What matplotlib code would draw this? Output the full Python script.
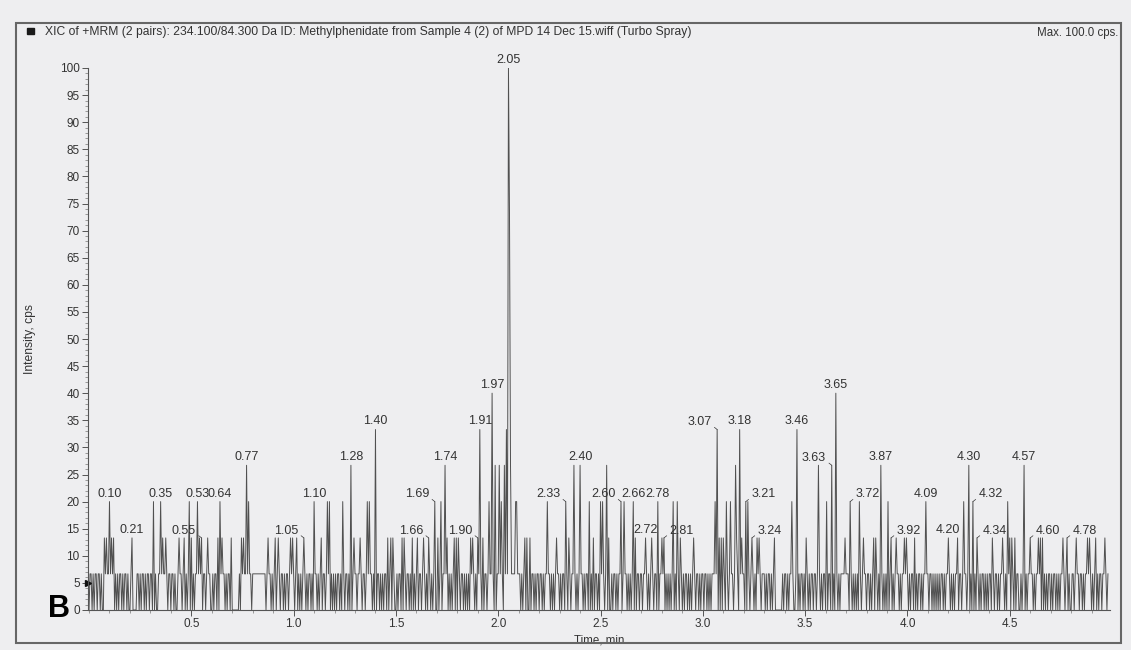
import numpy as np
import matplotlib
matplotlib.use("Agg")
import matplotlib.pyplot as plt
from matplotlib.patches import Rectangle
from matplotlib.ticker import MultipleLocator
import matplotlib.transforms as mtransforms

plt.rcParams["font.family"] = ["Liberation Sans", "DejaVu Sans"]

BG = "#eeeef0"
INK = "#333333"
TRACE = "#505050"

# ── Data ─────────────────────────────────────────────────────────────────────
TITLE = ("XIC of +MRM (2 pairs): 234.100/84.300 Da ID: Methylphenidate from "
         "Sample 4 (2) of MPD 14 Dec 15.wiff (Turbo Spray)")

DT = 0.005          # min between scans
ONE_COUNT = 6.67    # cps of a single-count scan

# background scans (0 / 1 count), one string per half minute
BASELINE = [
    "0110101101 1010011011 0101101010 1101011010 0100000110 1011010110 1101010011 0101101011 0110100101 1011010110",
    "1010110101 1011010110 0101101011 0110101101 0000000101 1011010110 1111111111 1110101101 0110101011 0101101010",
    "1011010101 1101011010 0110101101 1010110101 0101101011 0110101010 1101101011 0101011010 1011010101 1010110110",
    "0101101011 0110101010 1101101010 1011010110 0101101101 1010101101 0110110101 0101101010 1101010110 1011010101",
    "1010101111 1111111111 1101011010 0101101011 0110101101 1010101011 0101101101 1011010101 0110101101 0101011010",
    "1101011010 0101101011 1010110101 0110101101 1011010101 0101101011 0110101010 1101011011 0101101010 1010110101",
    "1011010101 1101101010 0101101011 0110101101 1010110101 0101101011 1010110101 1000000010 1101011010 0110101101",
    "0110101101 1010101011 0101101010 1101011111 1110110101 0101101011 0110101101 1010110101 0101101010 1101011011",
    "1010110101 0110101101 1011010101 0101101011 1101010110 0110101101 1010101011 0101101010 1101101101 0110101011",
    "1011010110 0101101011 0110101101 1010101011 0101101010 1101011010 0110101101 1010110101 0101101011 0110101",
]

# unlabelled spikes above the background
SPIKE_TIMES = [
    0.075, 0.085, 0.11, 0.12, 0.315, 0.36, 0.375, 0.44, 0.465, 0.49, 0.50, 0.54,
    0.58, 0.63, 0.65, 0.695, 0.745, 0.755, 0.78, 0.875, 0.91, 0.925, 0.985, 0.995,
    1.015, 1.135, 1.165, 1.175, 1.24, 1.295, 1.325, 1.36, 1.37, 1.46, 1.475, 1.485,
    1.53, 1.54, 1.58, 1.605, 1.635, 1.705, 1.72, 1.75, 1.785, 1.795, 1.805, 1.865,
    1.875, 1.925, 1.955, 1.985, 2.005, 2.015, 2.03, 2.04, 2.055, 2.06, 2.085, 2.09,
    2.13, 2.14, 2.155, 2.24, 2.285, 2.345, 2.37, 2.445, 2.465, 2.50, 2.51, 2.53,
    2.54, 2.615, 2.67, 2.75, 2.80, 2.855, 2.875, 2.89, 2.955, 3.06, 3.08, 3.09,
    3.10, 3.115, 3.135, 3.16, 3.165, 3.19, 3.22, 3.265, 3.275, 3.35, 3.435, 3.505,
    3.565, 3.605, 3.695, 3.765, 3.785, 3.835, 3.845, 3.905, 3.945, 3.985, 3.995,
    4.035, 4.245, 4.275, 4.415, 4.465, 4.49, 4.50, 4.51, 4.525, 4.64, 4.65, 4.66,
    4.76, 4.825, 4.88, 4.89, 4.92, 4.965,
]
SPIKE_CPS = [
    13.3, 13.3, 13.3, 13.3, 20.0, 13.3, 13.3, 13.3, 13.3, 20.0, 13.3, 13.3,
    13.3, 13.3, 13.3, 13.3, 13.3, 13.3, 20.0, 13.3, 13.3, 13.3, 13.3, 13.3,
    13.3, 13.3, 20.0, 20.0, 20.0, 13.3, 13.3, 20.0, 20.0, 13.3, 13.3, 13.3,
    13.3, 13.3, 13.3, 13.3, 13.3, 13.3, 20.0, 13.3, 13.3, 13.3, 13.3, 13.3,
    13.3, 13.3, 20.0, 26.7, 26.7, 20.0, 26.7, 33.3, 73.3, 26.7, 20.0, 20.0,
    13.3, 13.3, 13.3, 20.0, 13.3, 13.3, 26.7, 20.0, 13.3, 20.0, 20.0, 26.7,
    13.3, 20.0, 13.3, 13.3, 13.3, 20.0, 20.0, 13.3, 13.3, 20.0, 13.3, 13.3,
    13.3, 20.0, 20.0, 26.7, 13.3, 13.3, 20.0, 13.3, 13.3, 13.3, 20.0, 13.3,
    26.7, 20.0, 13.3, 20.0, 13.3, 13.3, 13.3, 20.0, 13.3, 13.3, 13.3,
    13.3, 13.3, 20.0, 13.3, 13.3, 20.0, 13.3, 13.3, 13.3, 13.3, 13.3, 13.3,
    13.3, 13.3, 13.3, 13.3, 13.3, 13.3,
]

# annotated apexes: retention time, intensity, label side (c / l / r)
PEAK_TIMES = [
    0.10, 0.21, 0.35, 0.53, 0.55, 0.64, 0.77, 1.05, 1.10, 1.28, 1.40, 1.66,
    1.69, 1.74, 1.90, 1.91, 1.97, 2.05, 2.33, 2.40, 2.60, 2.66, 2.72, 2.78,
    2.81, 3.07, 3.18, 3.21, 3.24, 3.46, 3.63, 3.65, 3.72, 3.87, 3.92, 4.09,
    4.20, 4.30, 4.32, 4.34, 4.57, 4.60, 4.78,
]
PEAK_CPS = [
    20.0, 13.3, 20.0, 20.0, 13.3, 20.0, 26.7, 13.3, 20.0, 26.7, 33.3, 13.3,
    20.0, 26.7, 13.3, 33.3, 40.0, 100.0, 20.0, 26.7, 20.0, 20.0, 13.3, 20.0,
    13.3, 33.3, 33.3, 20.0, 13.3, 33.3, 26.7, 40.0, 20.0, 26.7, 13.3, 20.0,
    13.3, 26.7, 20.0, 13.3, 26.7, 13.3, 13.3,
]
PEAK_SIDE = [
    "c", "c", "c", "c", "l", "c", "c", "l", "c", "c", "c", "l",
    "l", "c", "l", "c", "c", "c", "l", "c", "l", "c", "c", "c",
    "r", "l", "c", "r", "r", "c", "l", "c", "r", "c", "r", "c",
    "c", "c", "r", "r", "c", "r", "r",
]

Y_TICKS = np.arange(0, 101, 5)
X_TICKS = [0.5, 1.0, 1.5, 2.0, 2.5, 3.0, 3.5, 4.0, 4.5]

# ── Trace ────────────────────────────────────────────────────────────────────
times, cps = [], []
for k, seg in enumerate(BASELINE):
    digits = "".join(seg.split())
    for j, ch in enumerate(digits):
        times.append(0.5 * k + j * DT)
        cps.append(int(ch) * ONE_COUNT)
times = np.array(times)
cps = np.array(cps)

for t, v in zip(SPIKE_TIMES + PEAK_TIMES, SPIKE_CPS + PEAK_CPS):
    i = int(np.argmin(np.abs(times - t)))
    cps[i] = max(cps[i], v)

# ── Figure ───────────────────────────────────────────────────────────────────
fig = plt.figure(figsize=(11.31, 6.5), dpi=100, facecolor=BG)
W, H = 1131, 650

fig.patches.append(Rectangle((16 / W, 1 - 643 / H), 1105 / W, 620 / H,
                             transform=fig.transFigure, fill=False,
                             edgecolor="#666666", lw=1.5))
fig.patches.append(Rectangle((27 / W, 1 - 34 / H), 7 / W, 6 / H,
                             transform=fig.transFigure, color="#1a1a1a"))
fig.text(45 / W, 1 - 32 / H, TITLE, ha="left", va="center", fontsize=8.7, color=INK)
fig.text(1118 / W, 1 - 33 / H, "Max. 100.0 cps.", ha="right", va="center",
         fontsize=8.3, color=INK)

ax = fig.add_axes([88 / W, 1 - 610 / H, (1110 - 88) / W, (610 - 68) / H])
ax.set_facecolor(BG)
ax.plot(times, cps, color=TRACE, lw=0.7)

for t, side in zip(PEAK_TIMES, PEAK_SIDE):
    i = int(np.argmin(np.abs(times - t)))
    x, y = times[i], cps[i]
    kw = dict(textcoords="offset points", fontsize=9, color=INK, va="bottom",
              annotation_clip=False)
    if side == "c":
        ax.annotate(f"{t:.2f}", (x, y), xytext=(0, 1.5), ha="center", **kw)
    else:
        dx = -4 if side == "l" else 4
        ax.annotate(f"{t:.2f}", (x, y), xytext=(dx, 1.0),
                    ha="right" if side == "l" else "left",
                    arrowprops=dict(arrowstyle="-", lw=0.5, color=INK,
                                    shrinkA=0, shrinkB=0,
                                    relpos=(1.0, 0.25) if side == "l" else (0.0, 0.25)),
                    **kw)

ax.set_xlim(-0.005, 4.99)
ax.set_ylim(0, 100)
for s in ("top", "right"):
    ax.spines[s].set_visible(False)
for s in ("left", "bottom"):
    ax.spines[s].set_color("#555555")
    ax.spines[s].set_linewidth(0.8)

ax.set_yticks(Y_TICKS)
ax.yaxis.set_minor_locator(MultipleLocator(1))
ax.set_xticks(X_TICKS)
ax.set_xticklabels([f"{v:.1f}" for v in X_TICKS])
ax.xaxis.set_minor_locator(MultipleLocator(0.1))
ax.tick_params(which="major", length=4, width=0.7, color="#555555",
               labelsize=8.5, labelcolor=INK, pad=2)
ax.tick_params(which="minor", length=2, width=0.5, color="#777777")

ax.set_ylabel("Intensity, cps", fontsize=8.7, color=INK, labelpad=17)
ax.set_xlabel("Time, min", fontsize=8.3, color=INK, labelpad=3)

# marker on the 5 cps line
trans = mtransforms.blended_transform_factory(ax.transAxes, ax.transData)
ax.plot([0], [5], marker=">", ms=4.5, color="#111111", transform=trans, clip_on=False)

fig.text(48 / W, 1 - 617 / H, "B", fontsize=22, fontweight="bold", color="black",
         ha="left", va="baseline")

fig.savefig("out.png", dpi=100, facecolor=BG)
